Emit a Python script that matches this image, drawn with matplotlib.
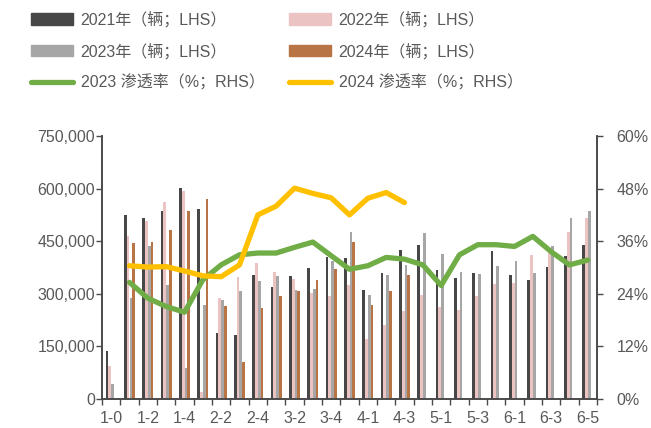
import matplotlib
matplotlib.use("Agg")
import matplotlib.pyplot as plt
import numpy as np
from matplotlib.patches import Patch
from matplotlib.lines import Line2D
from matplotlib.ticker import FuncFormatter, MultipleLocator

plt.rcParams['font.family'] = ['Liberation Sans', 'Noto Sans CJK SC', 'DejaVu Sans']

categories = ["1-0", "1-1", "1-2", "1-3", "1-4", "2-1", "2-2", "2-3", "2-4",
              "3-1", "3-2", "3-3", "3-4", "3-5", "4-1", "4-2", "4-3", "4-4",
              "5-1", "5-2", "5-3", "5-4", "6-1", "6-2", "6-3", "6-4", "6-5"]

sales_2021 = [138000, 525000, 517000, 536000, 602000, 543000, 187000, 183000, 354000,
              319000, 351000, 375000, 405000, 402000, 311000, 360000, 425000, 439000,
              368000, 346000, 359000, 423000, 353000, 339000, 376000, 409000, 439000]
sales_2022 = [93000, 465000, 509000, 562000, 594000, 21000, 288000, 348000, 388000,
              363000, 343000, 303000, 295000, 324000, 172000, 212000, 251000, 298000,
              263000, 253000, 294000, 329000, 331000, 411000, 416000, 477000, 516000]
sales_2023 = [43000, 289000, 437000, 326000, 89000, 267000, 283000, 307000, 337000,
              351000, 312000, 315000, 394000, 475000, 298000, 354000, 383000, 473000,
              413000, 363000, 356000, 380000, 394000, 359000, 437000, 516000, 536000]
sales_2024 = [0, 445000, 448000, 483000, 536000, 570000, 266000, 105000, 259000,
              295000, 307000, 340000, 370000, 448000, 267000, 308000, 353000]

pen_2023 = [None, 26.6, 23.0, 21.1, 19.8, 27.2, 30.6, 32.9, 33.3, 33.3, 34.6, 35.8,
            32.7, 29.6, 30.4, 32.3, 31.9, 30.6, 25.9, 32.9, 35.2, 35.2, 34.8, 37.1,
            33.6, 30.6, 31.7]
pen_2024 = [None, 30.4, 30.1, 30.2, 29.2, 28.1, 27.9, 30.6, 42.0, 44.0, 48.1, 46.9,
            45.9, 42.0, 45.8, 47.1, 44.8]

c2021 = "#474747"
c2022 = "#EBC3C3"
c2023 = "#A6A6A6"
c2024 = "#B87444"
cgreen = "#70AD47"
cyellow = "#FFC000"
tcolor = "#595959"
scolor = "#4A4A4A"

fig = plt.figure(figsize=(6.51, 4.28), dpi=100)
ax = fig.add_axes([102/651, 1-399/428, (597-102)/651, (399-136)/428])
ax2 = ax.twinx()

x = np.arange(len(categories))
w = 0.15
ax.bar(x - 1.5*w, sales_2021, w, color=c2021, zorder=2)
ax.bar(x - 0.5*w, sales_2022, w, color=c2022, zorder=2)
ax.bar(x + 0.5*w, sales_2023, w, color=c2023, zorder=2)
x24 = np.arange(len(sales_2024))
ax.bar(x24 + 1.5*w, sales_2024, w, color=c2024, zorder=2)

p23 = np.array([np.nan if v is None else v for v in pen_2023], dtype=float)
p24 = np.array([np.nan if v is None else v for v in pen_2024], dtype=float)
lw = 3.8
ax2.plot(x, p23, color=cgreen, lw=lw, solid_capstyle='round', solid_joinstyle='round')
ax2.plot(x24, p24, color=cyellow, lw=lw, solid_capstyle='round', solid_joinstyle='round')

ax.set_xlim(-0.5, len(categories) - 0.5)
ax.set_ylim(0, 750000)
ax2.set_ylim(0, 60)
ax.yaxis.set_major_locator(MultipleLocator(150000))
ax2.yaxis.set_major_locator(MultipleLocator(12))
ax.yaxis.set_major_formatter(FuncFormatter(lambda v, p: f"{int(v):,}"))
ax2.yaxis.set_major_formatter(FuncFormatter(lambda v, p: f"{int(round(v))}%"))

ax.set_xticks(x[::2])
ax.set_xticklabels(categories[::2])
ax.set_xticks(np.arange(len(categories) + 1) - 0.5, minor=True)
ax.tick_params(axis='x', which='major', length=0, pad=8.5, labelsize=11.5, labelcolor=tcolor)
ax.tick_params(axis='x', which='minor', length=4, width=1, color=scolor, direction='out')
ax.tick_params(axis='y', length=4, width=1, color=scolor, pad=1, labelsize=11.5, labelcolor=tcolor)
ax2.tick_params(axis='y', length=4, width=1, color=scolor, pad=10, labelsize=11.5, labelcolor=tcolor)

for a in (ax, ax2):
    a.spines['top'].set_visible(False)
    for s in ('left', 'right', 'bottom'):
        a.spines[s].set_color(scolor)
        a.spines[s].set_linewidth(1.2)

handles = [Patch(color=c2021), Patch(color=c2022), Patch(color=c2023), Patch(color=c2024),
           Line2D([], [], color=cgreen, lw=lw, solid_capstyle='round'),
           Line2D([], [], color=cyellow, lw=lw, solid_capstyle='round')]
labels = ["2021年（辆；LHS）", "2022年（辆；LHS）", "2023年（辆；LHS）", "2024年（辆；LHS）",
          "2023 渗透率（%；RHS）", "2024 渗透率（%；RHS）"]
order = [0, 2, 4, 1, 3, 5]
leg = fig.legend([handles[i] for i in order], [labels[i] for i in order],
                 ncol=2, loc='upper left', bbox_to_anchor=(31/651, 1 - 11/428),
                 frameon=False, fontsize=11.5, handlelength=2.6, handleheight=0.7,
                 handletextpad=0.5, columnspacing=1.55, labelspacing=0.95,
                 borderpad=0, borderaxespad=0)
for t in leg.get_texts():
    t.set_color(tcolor)

fig.savefig("out.png", dpi=100)
